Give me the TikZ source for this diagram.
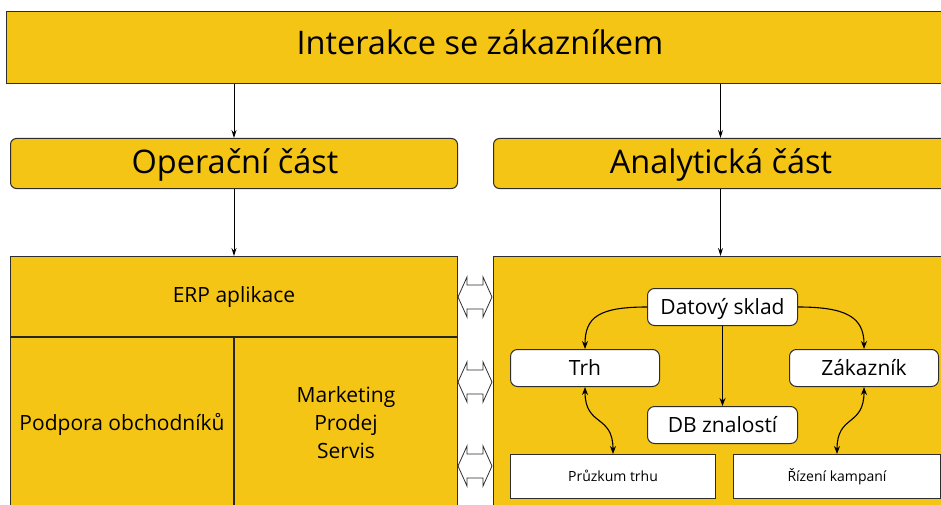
\documentclass[tikz,border=0pt]{standalone}
\usepackage{fontspec}
\setmainfont{Open Sans}
\usetikzlibrary{arrows.meta}
\definecolor{gold}{RGB}{245,197,22}
\definecolor{edge}{RGB}{45,45,45}
\begin{document}
\begin{tikzpicture}[x=1pt,y=-1pt,
  font=\fontsize{21}{28}\selectfont,
  >={Stealth[length=8pt,width=6pt]},
  bigfont/.style={font=\fontsize{32.5}{36}\selectfont},
  panel/.style={rectangle,draw=edge,line width=1pt,fill=gold,inner sep=0pt,anchor=north west},
  header/.style={panel,rounded corners=6pt},
  card/.style={rectangle,draw=edge,line width=1pt,fill=white,rounded corners=7pt,inner sep=0pt,
    anchor=north west,text height=15pt,text depth=0pt},
  note/.style={rectangle,draw=edge,line width=1pt,fill=white,inner sep=0pt,anchor=north west,
    font=\fontsize{14}{17}\selectfont,text height=10pt,text depth=0pt},
  label/.style={anchor=base,inner sep=0pt},
  divider/.style={draw=black!85,line width=2pt},
  feed/.style={->,draw=black,line width=0.9pt,>={Stealth[length=8pt,width=5pt]}},
  flow/.style={->,draw=black,line width=1.1pt},
  link/.pic={\draw[draw=edge,fill=white,line width=0.8pt,line join=miter]
    (-17,0) -- (-8,-20) -- (-8,-12) -- (8,-12) -- (8,-20) -- (17,0)
    -- (8,20) -- (8,12) -- (-8,12) -- (-8,20) -- cycle;},
]
\useasboundingbox (0,0) rectangle (941,505);
\clip (0,0) rectangle (941,505);

% top banner
\node[panel,minimum width=950pt,minimum height=72pt] (crm) at (6,11) {};
\node[label,bigfont] (crmtext) at (480,55) {Interakce se zákazníkem};

% the two headers
\node[header,minimum width=447pt,minimum height=50pt] (op) at (10,138) {};
\node[label,bigfont] (optext) at (235,173) {Operační část};
\node[header,minimum width=454pt,minimum height=50pt] (an) at (493,138) {};
\node[label,bigfont] (antext) at (721,173) {Analytická část};

% the two lower panels
\node[panel,minimum width=447pt,minimum height=270pt] (ops) at (10,256) {};
\node[panel,minimum width=454pt,minimum height=270pt] (ana) at (493,256) {};

% arrows between the levels
\draw[feed] (crm.south -| op.north) -- (op.north);
\draw[feed] (crm.south -| an.north) -- (an.north);
\draw[feed] (op.south) -- (ops.north);
\draw[feed] (an.south) -- (ana.north);

% operational panel
\draw[divider] (10,337) -- (457,337);
\draw[divider] (234,337) -- (234,530);
\node[label] (erp) at (234,302) {ERP aplikace};
\node[label] (sales) at (122,430) {Podpora obchodníků};
\node[label] (mkt) at (346,402) {Marketing};
\node[label] (prod) at (346,430) {Prodej};
\node[label] (serv) at (346,458) {Servis};

% two-way links between the panels
\pic at (475,297) {link};
\pic at (475,382) {link};
\pic at (475,466) {link};

% analytical panel
\node[card,minimum width=150pt,minimum height=37pt] (ds) at (647,288) {Datový sklad};
\node[card,minimum width=149pt,minimum height=37pt] (trh) at (510,349) {Trh};
\node[card,minimum width=149pt,minimum height=37pt] (zak) at (789,349) {Zákazník};
\node[card,minimum width=150pt,minimum height=37pt] (db) at (647,406) {DB znalostí};
\node[note,minimum width=205pt,minimum height=44pt] (pt) at (510,454) {Průzkum trhu};
\node[note,minimum width=207pt,minimum height=44pt] (rk) at (733,454) {Řízení kampaní};

\draw[flow] (ds.west) .. controls +(-48,0) and +(0,-32) .. (trh.north);
\draw[flow] (ds.east) .. controls +(48,0) and +(0,-32) .. (zak.north);
\draw[flow] (ds.south) -- (db.north);
\draw[flow,<->] (trh.south) .. controls +(0,40) and +(0,-40) .. (pt.north);
\draw[flow,<->] (zak.south) .. controls +(0,40) and +(0,-40) .. (rk.north);
\end{tikzpicture}
\end{document}
